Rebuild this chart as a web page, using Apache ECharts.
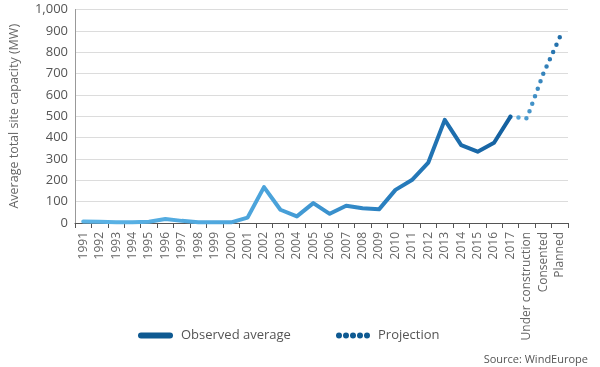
<!DOCTYPE html>
<html>
<head>
<meta charset="utf-8">
<script src="https://cdn.jsdelivr.net/npm/echarts@6/dist/echarts.min.js"></script>
<style>html,body{margin:0;padding:0;background:#fff}#c{width:600px;height:367px}</style>
</head>
<body>
<div id="c"></div>
<script>
const categories = ['1991','1992','1993','1994','1995','1996','1997','1998','1999','2000','2001','2002','2003','2004','2005','2006','2007','2008','2009','2010','2011','2012','2013','2014','2015','2016','2017','Under construction','Consented','Planned'];
const observed = [7,6,4,4,6,19,10,3,3,3,25,168,62,31,93,43,81,69,64,155,201,283,483,365,334,376,498];
const projectionPoints = [498,490,700,870];
const projectionStart = 26;

const observedData = categories.map((c,i)=> i < observed.length ? observed[i] : null);
const projectionData = categories.map((c,i)=> i >= projectionStart ? projectionPoints[i-projectionStart] : null);

const FONT = 'Open Sans';
const legendText = {fontSize:13,color:'#555',fontFamily:FONT,padding:[0,0,0,3]};
const chart = echarts.init(document.getElementById('c'));
chart.setOption({
  animation:false,
  textStyle:{fontFamily:FONT},
  title:{text:'Source: WindEurope',right:12,bottom:2,padding:0,textStyle:{fontSize:11,fontWeight:'normal',color:'#555',fontFamily:FONT}},
  legend:[
    {
      left:138, top:329, padding:0, itemWidth:35, itemHeight:6, textStyle:legendText,
      data:[{name:'Observed average',icon:'path://M3,0 L32,0 A3,3 0 0,1 32,6 L3,6 A3,3 0 0,1 3,0 Z',itemStyle:{color:'#0f5a92'}}]
    },
    {
      left:336, top:329, padding:0, itemWidth:34, itemHeight:6, textStyle:legendText,
      data:[{name:'Projection',icon:'path://M0,3 A3,3 0 1,0 6,3 A3,3 0 1,0 0,3 Z M7,3 A3,3 0 1,0 13,3 A3,3 0 1,0 7,3 Z M14,3 A3,3 0 1,0 20,3 A3,3 0 1,0 14,3 Z M21,3 A3,3 0 1,0 27,3 A3,3 0 1,0 21,3 Z M28,3 A3,3 0 1,0 34,3 A3,3 0 1,0 28,3 Z',itemStyle:{color:'#0f5a92'}}]
    }
  ],
  grid:{left:68,right:32,top:9.5,bottom:144,containLabel:false},
  xAxis:{
    type:'category', data:categories, boundaryGap:true,
    axisLine:{lineStyle:{color:'#555',width:1}},
    axisTick:{show:true,length:5,lineStyle:{color:'#555'}},
    axisLabel:{rotate:90,fontSize:12,color:'#666',margin:9,interval:0,fontFamily:FONT}
  },
  yAxis:{
    type:'value', min:0, max:1000, interval:100,
    name:'Average total site capacity (MW)', nameLocation:'middle', nameGap:54,
    nameTextStyle:{fontSize:12.5,color:'#666',fontFamily:FONT},
    axisLine:{show:true,lineStyle:{color:'#999'}},
    axisTick:{show:false},
    axisLabel:{fontSize:13,color:'#555',margin:7,fontFamily:FONT,formatter:v=>v.toLocaleString('en-US')},
    splitLine:{lineStyle:{color:'#dcdcdc'}}
  },
  series:[
    {
      name:'Observed average', type:'line', data:observedData, symbol:'none', connectNulls:false,
      lineStyle:{width:4,cap:'round',join:'round',color:new echarts.graphic.LinearGradient(0,0,1,0,[
        {offset:0,color:'#5cb4e6'},{offset:0.45,color:'#4aa2da'},{offset:0.7,color:'#2a80c0'},{offset:1,color:'#135f9e'}])},
      itemStyle:{color:'#0f5a92'}, z:3
    },
    {
      name:'Projection', type:'line', data:projectionData, symbol:'none',
      lineStyle:{width:4.5,type:[0,8],cap:'round',color:new echarts.graphic.LinearGradient(0,0,1,0,[
        {offset:0,color:'#62b2e2'},{offset:1,color:'#1d6aa6'}])},
      itemStyle:{color:'#0f5a92'}, z:2
    }
  ]
});
</script>
</body>
</html>
